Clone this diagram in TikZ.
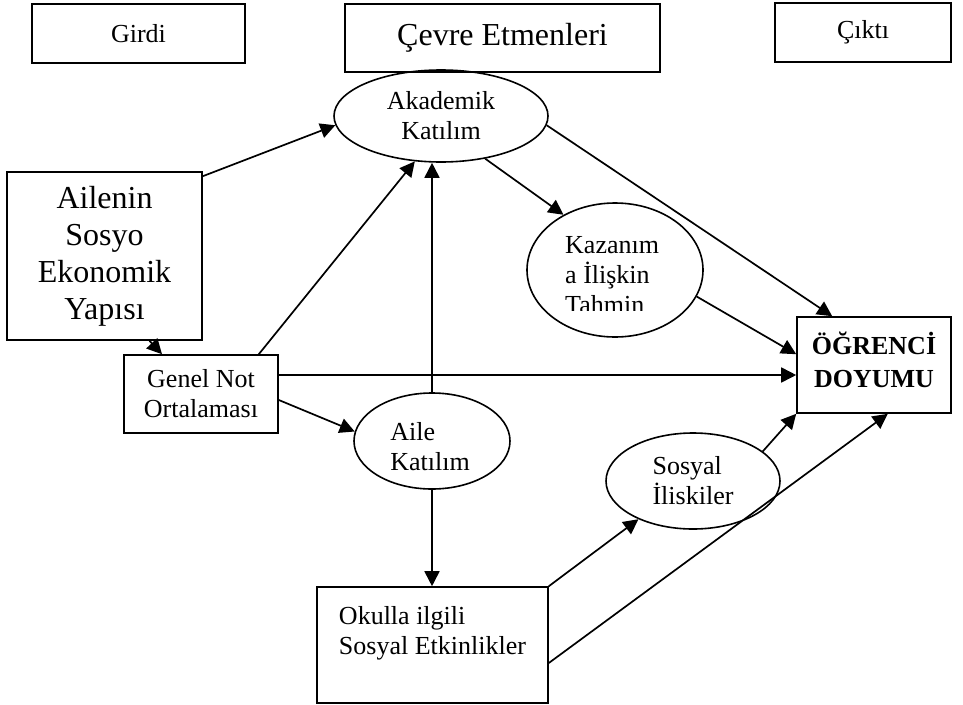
\documentclass[tikz,border=0pt]{standalone}
\usepackage{fontspec}
\setmainfont{Liberation Serif}
\usetikzlibrary{arrows.meta,shapes,positioning,calc}
\tikzset{
box/.style={draw, rectangle, line width=1.6pt, inner sep=0pt},
oval/.style={draw, ellipse, line width=1.6pt, inner sep=0pt},
txt/.style={font=\fontsize{26}{30}\selectfont},
bigtxt/.style={font=\fontsize{32}{37}\selectfont},
link/.style={-{Triangle[length=15pt,width=15pt]}, line width=1.7pt},
}

\begin{document}
\begin{tikzpicture}[x=1pt,y=-1pt]
            \useasboundingbox (0,0) rectangle (963,704);
            % top labels
            \node[box, txt, minimum width=213pt, minimum height=59pt] (girdi) at (138.5,33.5) {Girdi};
            \node[box, bigtxt, minimum width=315pt, minimum height=68pt] (cevre) at (502.5,38) {Çevre Etmenleri};
            \node[box, txt, minimum width=176pt, minimum height=59pt] (cikti) at (863,32.5) {Çıktı};

            % inputs
            \node[box, bigtxt, align=center, minimum width=195pt, minimum height=168pt] (ailenin) at (104.5,256) {Ailenin\\Sosyo\\Ekonomik\\Yapısı};
            \node[box, txt, align=center, minimum width=154pt, minimum height=78pt] (genel) at (201,394) {Genel Not\\Ortalaması};

            % environment
            \node[oval, txt, align=center, minimum width=214pt, minimum height=92pt] (akademik) at (441,116) {Akademik\\Katılım};
            \node[oval, minimum width=176pt, minimum height=134pt] (kazanim) at (615,270) {};
            \begin{scope}
            \clip (525,200) rectangle (705,310);
            \node[txt, align=left, inner sep=0pt, anchor=north west] (kazanimtext) at (565,236) {Kazanım\\a İlişkin\\Tahmin};
            \end{scope}
            \node[oval, minimum width=156pt, minimum height=96pt] (aile) at (432,441) {};
            \node[txt, align=left, inner sep=0pt] (ailetext) at (430,447) {Aile\\Katılım};
            \node[oval, txt, align=left, minimum width=174pt, minimum height=96pt] (sosyal) at (693,481) {Sosyal\\İliskiler};
            \node[box, txt, align=left, minimum width=231pt, minimum height=116pt] (okulla) at (432.5,645) {Okulla ilgili\\Sosyal Etkinlikler\\\mbox{}};

            % output
            \node[box, minimum width=154pt, minimum height=96pt] (ogrenci) at (874,365) {};
            \node[txt, font=\fontsize{26}{33}\selectfont\bfseries, align=center, inner sep=0pt] (ogrencitext) at (874,360) {ÖĞRENCİ\\DOYUMU};

            \coordinate (gs) at ([yshift=19pt]genel.east);

            \draw[link] ([yshift=-5pt]ailenin.north east) -- (akademik.185);
            \draw[link] ([xshift=45pt]ailenin.south) -- ([xshift=-39pt]genel.north);
            \draw[link] ([xshift=-20pt]genel.north east) -- (akademik.240);
            \draw[link] (gs) -- (gs -| ogrenci.west);
            \draw[link] ([yshift=-6pt]genel.east) -- (aile.173);
            \draw[link] (aile.north) -- (aile.north |- akademik.south);
            \draw[link] (akademik.316) -- (kazanim.133);
            \draw[link] (akademik.355) -- ([xshift=36pt]ogrenci.north west);
            \draw[link] (kazanim.342) -- ([yshift=-38pt]ogrenci.north west);
            \draw[link] (aile.south) -- (aile.south |- okulla.north);
            \draw[link] (okulla.north east) -- (sosyal.215);
            \draw[link] (sosyal.23) -- (ogrenci.south west);
            \draw[link] ([yshift=-18pt]okulla.east) -- ([xshift=-64pt]ogrenci.south east);
        \end{tikzpicture}
\end{document}
